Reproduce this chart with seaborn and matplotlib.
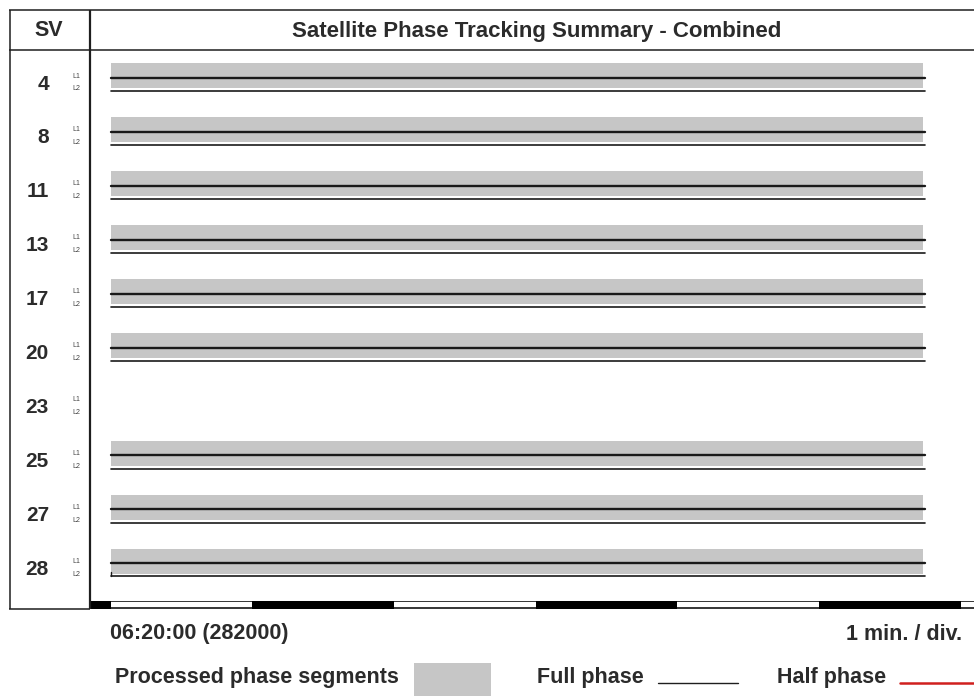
import numpy as np
import pandas as pd
import matplotlib
matplotlib.use("Agg")
import matplotlib.pyplot as plt
import seaborn as sns

# ---- tracking data (seconds after 06:20:00, GPS SOW 282000) ----
sv_ids = [4, 8, 11, 13, 17, 20, 23, 25, 27, 28]
processed_start_s = [0, 0, 0, 0, 0, 0, None, 0, 0, 0]
processed_end_s = [344, 344, 344, 344, 344, 344, None, 344, 344, 344]
l1_full_start_s = [0, 0, 0, 0, 0, 0, None, 0, 0, 0]
l1_full_end_s = [345, 345, 345, 345, 345, 345, None, 345, 345, 345]
l2_full_start_s = [0, 0, 0, 0, 0, 0, None, 0, 0, 0]
l2_full_end_s = [345, 345, 345, 345, 345, 345, None, 345, 345, 345]
l2_start_marks_sv = [28]

start_label = "06:20:00 (282000)"
scale_label = "1 min. / div."
title = "Satellite Phase Tracking Summary - Combined"
minute_edges_s = [-60, 0, 60, 120, 180, 240, 300, 360, 420]

W, H = 974, 696
sns.set_theme(style="white")
plt.rcParams["font.family"] = ["Liberation Sans", "DejaVu Sans"]
TXT = "#2b2b2b"
GRAY = "#c6c6c6"
FS = 15.5

fig = plt.figure(figsize=(W / 100, H / 100), dpi=100)
fig.patch.set_facecolor("white")


def frac_box(x0, y0, x1, y1):
    return [x0 / W, 1 - y1 / H, (x1 - x0) / W, (y1 - y0) / H]


# data area
ax = fig.add_axes(frac_box(90, 50, 974, 601))

seg_rows = []
for i, sv in enumerate(sv_ids):
    if processed_start_s[i] is None:
        continue
    ax.broken_barh([(processed_start_s[i], processed_end_s[i] - processed_start_s[i])],
                   (i - 0.27, 0.46), facecolors=GRAY, edgecolors="none", zorder=1)
    seg_rows.append({"t": l1_full_start_s[i], "y": i, "seg": f"{sv}-L1", "band": "L1"})
    seg_rows.append({"t": l1_full_end_s[i], "y": i, "seg": f"{sv}-L1", "band": "L1"})
    seg_rows.append({"t": l2_full_start_s[i], "y": i + 0.245, "seg": f"{sv}-L2", "band": "L2"})
    seg_rows.append({"t": l2_full_end_s[i], "y": i + 0.245, "seg": f"{sv}-L2", "band": "L2"})

df = pd.DataFrame(seg_rows)
sns.lineplot(data=df[df.band == "L1"], x="t", y="y", units="seg", estimator=None,
             color="#1a1a1a", linewidth=1.7, ax=ax, zorder=3, sort=False)
sns.lineplot(data=df[df.band == "L2"], x="t", y="y", units="seg", estimator=None,
             color="#1a1a1a", linewidth=1.2, ax=ax, zorder=3, sort=False)
for sv in l2_start_marks_sv:
    i = sv_ids.index(sv)
    ax.plot([l2_full_start_s[i], l2_full_start_s[i]], [i + 0.245, i + 0.17],
            color="#1a1a1a", lw=1.0, zorder=3)
ax.set_xlim(-8.7, 365.7)
ax.set_ylim(9.70, -0.52)
ax.axis("off")

# minute division bar
axt = fig.add_axes(frac_box(90, 600.5, 974, 608.5), sharex=ax)
axt.set_ylim(0, 1)
axt.axis("off")
for k in range(len(minute_edges_s) - 1):
    if k % 2 == 0:
        axt.axvspan(minute_edges_s[k], minute_edges_s[k + 1], color="black", lw=0)
axt.axhline(0.06, color="black", lw=1.1)
axt.axhline(0.94, color="black", lw=1.1)
ax.set_xlim(-8.7, 365.7)

# frame, header and labels in pixel coordinates
ov = fig.add_axes([0, 0, 1, 1])
ov.set_xlim(0, W)
ov.set_ylim(H, 0)
ov.axis("off")
lk = dict(color="#1e1e1e", solid_capstyle="butt")
ov.plot([9, W], [10, 10], lw=1.1, **lk)
ov.plot([9, W], [50, 50], lw=1.1, **lk)
ov.plot([9.5, 9.5], [10, 609], lw=1.1, **lk)
ov.plot([90, 90], [10, 609], lw=1.6, **lk)
ov.plot([9, 90], [608.5, 608.5], lw=1.1, **lk)

ov.text(49, 31, "SV", ha="center", va="center", fontsize=15.5, fontweight="bold", color=TXT)
ov.text(537, 31, title, ha="center", va="center", fontsize=16, fontweight="bold", color=TXT)

pitch = 53.9
for i, sv in enumerate(sv_ids):
    yl1 = 78 + pitch * i
    ov.text(49, yl1 + 6, str(sv), ha="right", va="center", fontsize=15,
            fontweight="bold", color=TXT)
    ov.text(76, yl1 - 2, "L1", ha="center", va="center", fontsize=5, color="#444444")
    ov.text(76, yl1 + 11, "L2", ha="center", va="center", fontsize=5, color="#444444")

ov.text(110, 634, start_label, ha="left", va="center", fontsize=FS,
        fontweight="bold", color=TXT)
ov.text(962, 634, scale_label, ha="right", va="center", fontsize=FS,
        fontweight="bold", color=TXT)

# legend
ov.text(115, 678, "Processed phase segments", ha="left", va="center", fontsize=FS,
        fontweight="bold", color=TXT)
ov.add_patch(plt.Rectangle((414, 663), 77, 40, facecolor=GRAY, edgecolor="none"))
ov.text(537, 678, "Full phase", ha="left", va="center", fontsize=FS,
        fontweight="bold", color=TXT)
ov.plot([658, 738], [683, 683], color="#1e1e1e", lw=1.0)
ov.text(777, 678, "Half phase", ha="left", va="center", fontsize=FS,
        fontweight="bold", color=TXT)
ov.plot([900, W], [683, 683], color="#d0201e", lw=1.8)

fig.savefig("out.png", dpi=100, facecolor="white")
